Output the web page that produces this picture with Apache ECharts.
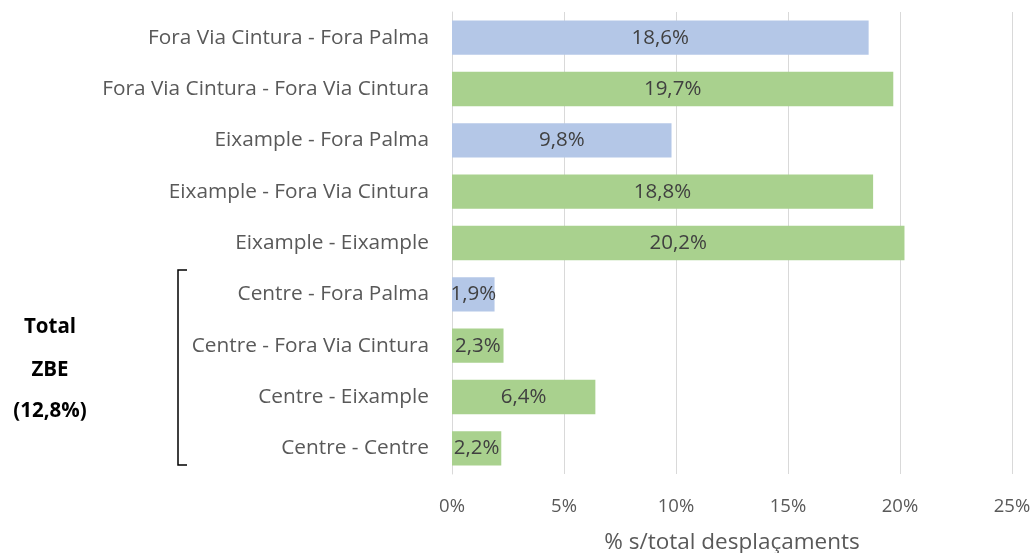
<!DOCTYPE html>
<html>
<head>
<meta charset="utf-8">
<script src="https://cdn.jsdelivr.net/npm/echarts@6/dist/echarts.min.js"></script>
<style>
  html, body { margin: 0; padding: 0; background: #fff; }
  #chart { width: 1035px; height: 553px; }
</style>
</head>
<body>
<div id="chart"></div>
<script>
  /* categories, top to bottom */
  var categories = [
    'Fora Via Cintura - Fora Palma',
    'Fora Via Cintura - Fora Via Cintura',
    'Eixample - Fora Palma',
    'Eixample - Fora Via Cintura',
    'Eixample - Eixample',
    'Centre - Fora Palma',
    'Centre - Fora Via Cintura',
    'Centre - Eixample',
    'Centre - Centre'
  ];
  /* % sobre total desplaçaments */
  var values = [18.6, 19.7, 9.8, 18.8, 20.2, 1.9, 2.3, 6.4, 2.2];
  var xTicks = [0, 5, 10, 15, 20, 25];
  var noteLines = ['Total', 'ZBE', '(12,8%)'];

  var chart = echarts.init(document.getElementById('chart'));
  var font = 'Open Sans';

  // texto de la anotación ZBE
  function note(txt, y) {
    return {
      type: 'text',
      style: { text: txt, x: 50, y: y, textAlign: 'center', textVerticalAlign: 'middle',
               fontFamily: font, fontWeight: 'bold', fontSize: 20.5, fill: '#000' }
    };
  }

  chart.setOption({
    animation: false,
    textStyle: { fontFamily: font },
    grid: { left: 452, right: 23, top: 12, bottom: 79, outerBoundsMode: 'none', containLabel: false },
    xAxis: {
      type: 'value',
      min: xTicks[0],
      max: xTicks[xTicks.length - 1],
      interval: 5,
      axisLine: { show: false },
      axisTick: { show: false },
      splitLine: { lineStyle: { color: '#d9d9d9', width: 1 } },
      axisLabel: {
        color: '#595959', fontSize: 18.5, margin: 23,
        formatter: function (v) { return v + '%'; }
      },
      name: '% s/total desplaçaments',
      nameLocation: 'middle',
      nameGap: 57,
      nameTextStyle: { color: '#595959', fontSize: 22.5 }
    },
    yAxis: {
      type: 'category',
      inverse: true,
      data: categories,
      axisLine: { show: true, lineStyle: { color: '#d9d9d9' } },
      axisTick: { show: false },
      axisLabel: { color: '#595959', fontSize: 20.8, margin: 23 }
    },
    series: [{
      type: 'bar',
      data: values,
      barCategoryGap: '33%',
      itemStyle: {
        color: function (p) {
          return /Fora Palma$/.test(categories[p.dataIndex]) ? '#b4c7e7' : '#a9d18e';
        }
      },
      label: {
        show: true,
        position: 'inside',
        color: '#404040',
        fontSize: 20.5,
        formatter: function (p) { return p.value.toFixed(1).replace('.', ',') + '%'; }
      }
    }],
    graphic: [
      {
        type: 'polyline',
        shape: { points: [[187, 270], [178, 270], [178, 465], [187, 465]] },
        style: { stroke: '#000', lineWidth: 1.5, fill: null }
      },
      note(noteLines[0], 327),
      note(noteLines[1], 370),
      note(noteLines[2], 411)
    ]
  });
</script>
</body>
</html>
